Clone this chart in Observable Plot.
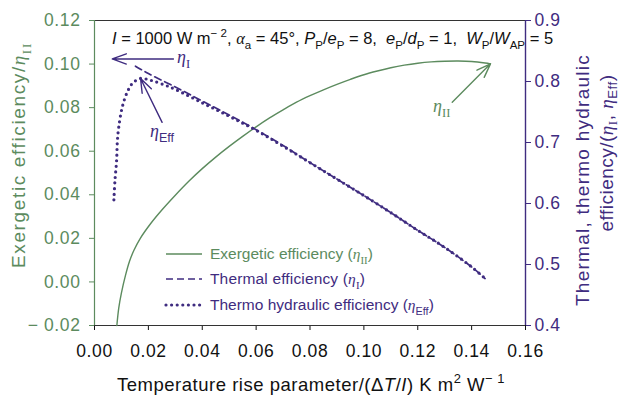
<!DOCTYPE html>
<html>
<head>
<meta charset="utf-8">
<script src="https://cdn.jsdelivr.net/npm/d3@7"></script>
<script src="https://cdn.jsdelivr.net/npm/@observablehq/plot@0.6"></script>
<style>
  html, body { margin: 0; padding: 0; background: #fff; }
  #chart svg { display: block; }
</style>
</head>
<body>
<div id="chart"></div>
<script>
// Temperature rise parameter ticks and axis ticks
const xTicks = [0, 0.02, 0.04, 0.06, 0.08, 0.10, 0.12, 0.14, 0.16];
const leftTicks = [-0.02, 0, 0.02, 0.04, 0.06, 0.08, 0.10, 0.12];
const rightTicks = [0.4, 0.5, 0.6, 0.7, 0.8, 0.9];

// Exergetic efficiency (left axis)
const exergX = [0.0083, 0.0090, 0.0100, 0.0115, 0.0130, 0.0146, 0.0170, 0.0208, 0.025, 0.030, 0.035, 0.040, 0.045, 0.050, 0.055, 0.060, 0.065, 0.070, 0.075, 0.080, 0.085, 0.090, 0.095, 0.100, 0.105, 0.110, 0.115, 0.120, 0.125, 0.130, 0.135, 0.140, 0.145, 0.147];
const exergY = [-0.020, -0.012, -0.005, 0.003, 0.0095, 0.0144, 0.0200, 0.0267, 0.0330, 0.0398, 0.0462, 0.0520, 0.0573, 0.0622, 0.0668, 0.0712, 0.0753, 0.0790, 0.0825, 0.0855, 0.0882, 0.0907, 0.0930, 0.0951, 0.0968, 0.0983, 0.0995, 0.1004, 0.1010, 0.1013, 0.1014, 0.1012, 0.1005, 0.1001];

// Thermal efficiency (right axis)
const thermalX = [0.0152, 0.020, 0.030, 0.040, 0.050, 0.060, 0.070, 0.080, 0.090, 0.100, 0.110, 0.120, 0.130, 0.140, 0.145];
const thermalY = [0.825, 0.813, 0.791, 0.768, 0.745, 0.721, 0.695, 0.667, 0.640, 0.613, 0.585, 0.556, 0.528, 0.496, 0.477];

// Thermo hydraulic efficiency (right axis)
const hydroX = [0.0072, 0.0076, 0.0082, 0.0085, 0.0090, 0.0103, 0.0121, 0.0141, 0.0171, 0.0208, 0.025, 0.030, 0.040, 0.050, 0.060, 0.070, 0.080, 0.090, 0.100, 0.110, 0.120, 0.130, 0.140, 0.145];
const hydroY = [0.606, 0.638, 0.670, 0.703, 0.725, 0.758, 0.782, 0.797, 0.805, 0.802, 0.796, 0.787, 0.765, 0.743, 0.720, 0.694, 0.667, 0.640, 0.613, 0.585, 0.556, 0.528, 0.496, 0.477];

const GREEN = "#5c8b5e";
const PURPLE = "#3f2c80";
const FRAME = "#333";
const SANS = "'Liberation Sans', Arial, Helvetica, sans-serif";
const SERIF = "'Liberation Serif', 'Times New Roman', serif";

// Right axis values share the left scale through a linear map
const yLeft = [-0.02, 0.12], yRight = [0.4, 0.9];
const toLeft = v => yLeft[0] + (v - yRight[0]) * (yLeft[1] - yLeft[0]) / (yRight[1] - yRight[0]);
const fromLeft = v => yRight[0] + (v - yLeft[0]) * (yRight[1] - yRight[0]) / (yLeft[1] - yLeft[0]);

const exerg = exergX.map((x, i) => ({x, y: exergY[i]}));
const thermal = thermalX.map((x, i) => ({x, y: toLeft(thermalY[i])}));
const hydro = hydroX.map((x, i) => ({x, y: toLeft(hydroY[i])}));

const peak = hydro.reduce((a, b) => (b.y > a.y ? b : a));
const exergEnd = exerg[exerg.length - 1];

// Callout arrows (right-axis values converted to the left scale)
const arrows = [
  {x1: 0.0293, y1: toLeft(0.837), x2: 0.0066, y2: toLeft(0.837), c: PURPLE},
  {x1: 0.0251, y1: toLeft(0.733), x2: peak.x, y2: peak.y, c: PURPLE},
  {x1: 0.1328, y1: 0.0825, x2: exergEnd.x, y2: exergEnd.y, c: GREEN}
];

const fmtLeft = d => (d < 0 ? "\u2212 " + Math.abs(d).toFixed(2) : d.toFixed(2));

const plot = Plot.plot({
  width: 622,
  height: 398,
  marginLeft: 94,
  marginRight: 97,
  marginTop: 20,
  marginBottom: 73,
  style: {fontFamily: SANS, background: "#fff", letterSpacing: "0.6px"},
  x: {domain: [0, 0.16]},
  y: {domain: yLeft},
  marks: [
    Plot.axisX({ticks: xTicks, tickFormat: d => d.toFixed(2), tickSize: 5, tickPadding: 14, fontSize: 17.5, color: "#111", label: null}),
    Plot.axisY({anchor: "left", ticks: leftTicks, tickFormat: fmtLeft, tickSize: 5, tickPadding: 9, fontSize: 17.5, color: GREEN, label: null}),
    Plot.axisY({anchor: "right", ticks: rightTicks.map(toLeft), tickFormat: d => fromLeft(d).toFixed(1), tickSize: 5, tickPadding: 4, fontSize: 17.5, color: PURPLE, label: null}),
    Plot.ruleY([yLeft[1]], {stroke: FRAME, strokeWidth: 1.2}),
    Plot.ruleY([yLeft[0]], {stroke: FRAME, strokeWidth: 1.2}),
    Plot.ruleX([0], {stroke: GREEN, strokeWidth: 1.2}),
    Plot.ruleX([0.16], {stroke: PURPLE, strokeWidth: 1.4}),
    Plot.line(exerg, {x: "x", y: "y", stroke: GREEN, strokeWidth: 1.4, curve: "catmull-rom"}),
    Plot.line(thermal, {x: "x", y: "y", stroke: PURPLE, strokeWidth: 1.7, strokeDasharray: "7,4", curve: "catmull-rom"}),
    Plot.line(hydro, {x: "x", y: "y", stroke: PURPLE, strokeWidth: 3.2, strokeDasharray: "0,5.6", strokeLinecap: "round", curve: "catmull-rom"}),
    Plot.arrow(arrows, {x1: "x1", y1: "y1", x2: "x2", y2: "y2", stroke: "c", strokeWidth: 1.4, headLength: 16, headAngle: 40})
  ]
});

document.getElementById("chart").appendChild(plot);
const svg = d3.select(plot);

// Text with italic, subscript and superscript runs; optional fit to a length
function rich(x, y, parts, opts) {
  const size = opts.size;
  const t = svg.append("text")
    .attr("x", x).attr("y", y)
    .attr("fill", opts.color)
    .attr("font-size", size)
    .attr("font-family", SANS)
    .attr("letter-spacing", 0)
    .attr("text-anchor", opts.anchor || "start");
  if (opts.rotate) t.attr("transform", `rotate(${opts.rotate} ${x} ${y})`);
  let shift = 0, chars = 0;
  for (const [s, kind = ""] of parts) {
    const k = kind.split(" ");
    const ts = t.append("tspan").text(s);
    chars += [...s].length;
    let target = 0, fs = size;
    if (k.includes("sub")) { target = (opts.sub ?? 0.3) * size; fs = 0.7 * size; }
    if (k.includes("sup")) { target = -0.42 * size; fs = 0.7 * size; }
    if (target - shift !== 0) ts.attr("dy", target - shift);
    shift = target;
    if (fs !== size) ts.attr("font-size", fs);
    if (k.includes("i")) ts.attr("font-style", "italic");
    if (k.includes("serif")) ts.attr("font-family", SERIF);
  }
  if (opts.length) {
    const natural = t.node().getComputedTextLength();
    t.attr("letter-spacing", Math.max(0, (opts.length - natural) / chars));
  }
  return t;
}

// Axis titles
rich(311, 391, [["Temperature rise parameter/(\u0394"], ["T", "i"], ["/"], ["I", "i"], [") K m"], ["2", "sup"], [" W"], ["\u2212 1", "sup"]],
  {size: 18.5, color: "#111", anchor: "middle", length: 388});
rich(25, 155, [["Exergetic efficiency/"], ["\u03b7", "serif i"], ["II", "serif sub"]],
  {size: 19, color: GREEN, anchor: "middle", rotate: -90, length: 226});
rich(589, 180, [["Thermal, thermo hydraulic"]],
  {size: 19, color: PURPLE, anchor: "middle", rotate: -90, length: 252});
rich(613, 153, [["efficiency/("], ["\u03b7", "serif i"], ["I", "serif sub"], [", "], ["\u03b7", "serif i"], ["Eff", "sub"], [")"]],
  {size: 19, color: PURPLE, anchor: "middle", rotate: -90, length: 157, sub: 0.2});

// Operating conditions
rich(112, 44, [["I", "i"], [" = 1000 W m"], ["\u2212 2", "sup"], [", "], ["\u03b1", "serif i"], ["a", "sub"], [" = 45\u00b0, "],
  ["P", "i"], ["P", "sub"], ["/"], ["e", "i"], ["P", "sub"], [" = 8,  "],
  ["e", "i"], ["P", "sub"], ["/"], ["d", "i"], ["P", "sub"], [" = 1,  "],
  ["W", "i"], ["P", "sub"], ["/"], ["W", "i"], ["AP", "sub"], [" = 5"]],
  {size: 16.5, color: "#111", length: 396});

// Curve callouts
rich(177, 63, [["\u03b7", "serif i"], ["I", "serif sub"]], {size: 18, color: PURPLE});
rich(150, 137, [["\u03b7", "serif i"], ["Eff", "sub"]], {size: 18, color: PURPLE});
rich(433, 112, [["\u03b7", "serif i"], ["II", "serif sub"]], {size: 18, color: GREEN});

// Legend
const legend = [
  {label: [["Exergetic efficiency ("], ["\u03b7", "serif i"], ["II", "serif sub"], [")"]], color: GREEN, dash: null, width: 1.4, y: 254, length: 160},
  {label: [["Thermal efficiency ("], ["\u03b7", "serif i"], ["I", "serif sub"], [")"]], color: PURPLE, dash: "7,4", width: 1.7, y: 279, length: 155},
  {label: [["Thermo hydraulic efficiency ("], ["\u03b7", "serif i"], ["Eff", "sub"], [")"]], color: PURPLE, dash: "0,5.6", width: 3.2, y: 305, length: 222}
];
for (const item of legend) {
  const ln = svg.append("line")
    .attr("x1", 166).attr("x2", 202).attr("y1", item.y).attr("y2", item.y)
    .attr("stroke", item.color).attr("stroke-width", item.width);
  if (item.dash) ln.attr("stroke-dasharray", item.dash).attr("stroke-linecap", item.dash.startsWith("0") ? "round" : "butt");
  rich(210, item.y + 5, item.label, {size: 15.5, color: item.color, length: item.length});
}
</script>
</body>
</html>
